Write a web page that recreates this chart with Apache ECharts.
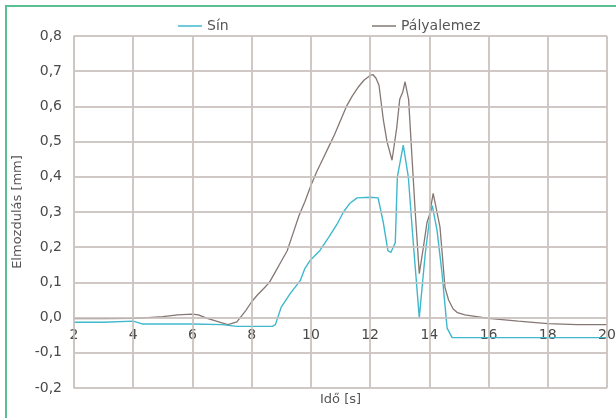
<!DOCTYPE html>
<html>
<head>
<meta charset="utf-8">
<script src="https://cdn.jsdelivr.net/npm/echarts@6/dist/echarts.min.js"></script>
<style>
  html, body { margin: 0; padding: 0; background: #fff; }
  #chart { width: 616px; height: 418px; }
</style>
</head>
<body>
<div id="chart"></div>
<script>
// Time axis ticks (s) and displacement ticks (mm)
const xTicks = [2, 4, 6, 8, 10, 12, 14, 16, 18, 20];
const yTicks = [-0.2, -0.1, 0.0, 0.1, 0.2, 0.3, 0.4, 0.5, 0.6, 0.7, 0.8];

// Sín (rail) displacement: [time s, displacement mm]
const sinTime = [2.0, 3.0, 4.0, 4.3, 5.0, 6.0, 7.0, 7.5, 8.7, 8.8, 9.0, 9.3, 9.64, 9.8, 9.97, 10.3, 10.6, 10.9, 11.1, 11.32, 11.56, 12.0, 12.27, 12.45, 12.6, 12.7, 12.85, 12.92, 13.12, 13.29, 13.46, 13.66, 13.86, 14.03, 14.1, 14.26, 14.43, 14.6, 14.77, 16.0, 18.0, 20.0];
const sinValue = [-0.013, -0.013, -0.01, -0.018, -0.018, -0.018, -0.02, -0.025, -0.025, -0.02, 0.03, 0.068, 0.105, 0.14, 0.162, 0.19, 0.228, 0.268, 0.3, 0.325, 0.34, 0.342, 0.34, 0.268, 0.19, 0.185, 0.213, 0.4, 0.49, 0.4, 0.21, 0.0, 0.18, 0.295, 0.318, 0.248, 0.125, -0.03, -0.057, -0.057, -0.057, -0.057];

// Pályalemez (deck plate) displacement: [time s, displacement mm]
const palyaTime = [2.0, 3.0, 4.0, 4.5, 5.0, 5.5, 6.0, 6.2, 6.5, 7.0, 7.2, 7.5, 7.8, 8.0, 8.2, 8.4, 8.6, 8.8, 9.0, 9.2, 9.4, 9.6, 9.8, 10.0, 10.2, 10.4, 10.6, 10.8, 11.0, 11.2, 11.4, 11.6, 11.8, 12.0, 12.1, 12.2, 12.3, 12.45, 12.57, 12.74, 12.9, 13.0, 13.1, 13.18, 13.3, 13.42, 13.52, 13.66, 13.8, 13.92, 14.0, 14.13, 14.36, 14.53, 14.65, 14.8, 14.95, 15.2, 15.6, 16.0, 17.0, 18.0, 19.0, 20.0];
const palyaValue = [-0.003, -0.003, -0.002, 0.0, 0.003, 0.008, 0.01, 0.008, -0.002, -0.015, -0.02, -0.012, 0.02, 0.045, 0.065, 0.082, 0.1, 0.13, 0.16, 0.19, 0.24, 0.29, 0.33, 0.375, 0.415, 0.45, 0.485, 0.52, 0.56, 0.6, 0.63, 0.655, 0.675, 0.688, 0.69, 0.68, 0.66, 0.56, 0.5, 0.447, 0.54, 0.62, 0.64, 0.67, 0.62, 0.447, 0.305, 0.125, 0.2, 0.27, 0.29, 0.353, 0.257, 0.085, 0.05, 0.025, 0.014, 0.008, 0.003, -0.002, -0.01, -0.017, -0.02, -0.02];

const pairs = (xs, ys) => xs.map((x, i) => [x, ys[i]]);

const gridColor = '#cdc4c0';
const textColor = '#555';
const tickColor = '#4a4a4a';
const font = 'DejaVu Sans, Verdana, sans-serif';

// Plot box: the time axis sits on the zero displacement line, 71 px above the bottom edge
const gridTop = 36, gridBottom = 30;
const zeroLift = 71;

// Grid raster drawn as mark lines at every tick of both axes
const gridLines = xTicks.map(v => ({ xAxis: v })).concat(yTicks.map(v => ({ yAxis: v })));

const chart = echarts.init(document.getElementById('chart'), null, { renderer: 'canvas' });
chart.setOption({
  backgroundColor: '#fff',
  animation: false,
  graphic: [{
    type: 'rect',
    shape: { x: 6, y: 6, width: 800, height: 600 },
    style: { fill: 'none', stroke: '#5cbf91', lineWidth: 2 },
    silent: true
  }],
  legend: [{
    left: 178, top: 19, padding: 0, icon: 'rect', itemWidth: 24, itemHeight: 1.5,
    textStyle: { color: textColor, fontSize: 14, fontFamily: font },
    data: ['Sín']
  }, {
    left: 372, top: 19, padding: 0, icon: 'rect', itemWidth: 24, itemHeight: 1.5,
    textStyle: { color: textColor, fontSize: 14, fontFamily: font },
    data: ['Pályalemez']
  }],
  grid: { left: 74, right: 9, top: gridTop, bottom: gridBottom, containLabel: false, outerBoundsMode: 'none' },
  xAxis: {
    type: 'value',
    min: xTicks[0], max: xTicks[xTicks.length - 1], interval: 2,
    offset: -zeroLift,
    name: 'Idő [s]', nameLocation: 'middle', nameGap: 76,
    nameTextStyle: { color: textColor, fontSize: 13, fontFamily: font },
    axisLine: { show: false, onZero: false },
    axisTick: { show: false },
    axisLabel: { color: tickColor, fontSize: 14, fontFamily: font, margin: 11 },
    splitLine: { show: true, lineStyle: { color: gridColor, width: 1.5 } }
  },
  yAxis: {
    type: 'value',
    min: yTicks[0], max: yTicks[yTicks.length - 1], interval: 0.1,
    name: 'Elmozdulás [mm]', nameLocation: 'middle', nameGap: 47,
    nameTextStyle: { color: textColor, fontSize: 13, fontFamily: font },
    axisLine: { show: true, lineStyle: { color: gridColor, width: 1.5 } },
    axisTick: { show: false },
    axisLabel: {
      color: tickColor, fontSize: 14, fontFamily: font, margin: 12,
      formatter: v => v.toFixed(1).replace('.', ',')
    },
    splitLine: { show: true, lineStyle: { color: gridColor, width: 1.5 } }
  },
  series: [{
    name: 'raszter', type: 'line', data: [], silent: true, z: 1,
    markLine: {
      silent: true, symbol: 'none', animation: false,
      label: { show: false },
      emphasis: { disabled: true },
      lineStyle: { color: gridColor, width: 1.5, type: 'solid' },
      data: gridLines
    }
  }, {
    name: 'Sín', type: 'line', showSymbol: false, smooth: false,
    data: pairs(sinTime, sinValue),
    itemStyle: { color: '#3fb8cd' },
    lineStyle: { color: '#3fb8cd', width: 1.4 },
    z: 3
  }, {
    name: 'Pályalemez', type: 'line', showSymbol: false, smooth: false,
    data: pairs(palyaTime, palyaValue),
    itemStyle: { color: '#857773' },
    lineStyle: { color: '#857773', width: 1.3 },
    z: 2
  }]
});
</script>
</body>
</html>
